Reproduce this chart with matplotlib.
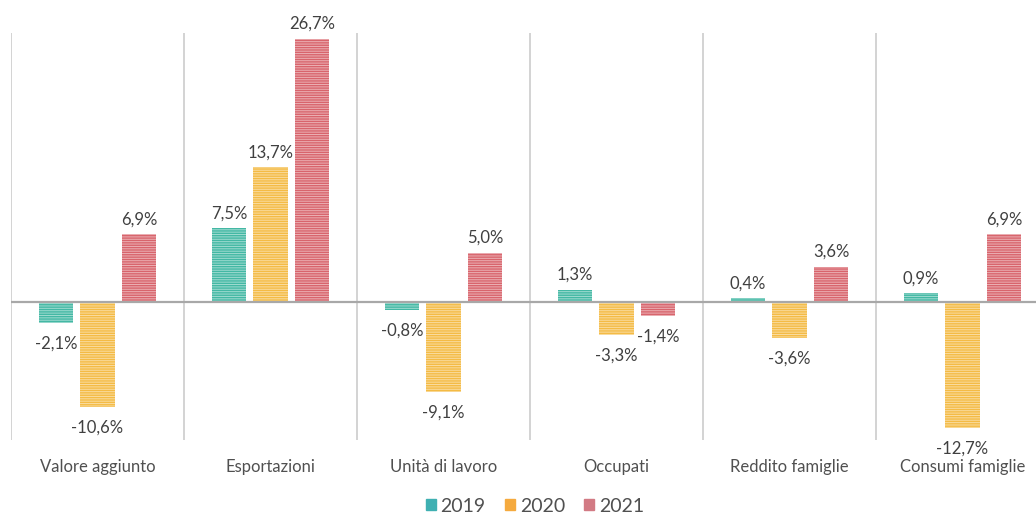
import numpy as np
import matplotlib.pyplot as plt

categories = ["Valore aggiunto", "Esportazioni", "Unità di lavoro", "Occupati",
              "Reddito famiglie", "Consumi famiglie"]
years = ["2019", "2020", "2021"]
v2019 = [-2.1, 7.5, -0.8, 1.3, 0.4, 0.9]
v2020 = [-10.6, 13.7, -9.1, -3.3, -3.6, -12.7]
v2021 = [6.9, 26.7, 5.0, -1.4, 3.6, 6.9]

colors = ["#43b8a4", "#f4bb45", "#d8646c"]
legend_colors = ["#3fb0b2", "#f5aa3e", "#d27a84"]

plt.rcParams['font.family'] = ['Lato', 'DejaVu Sans']
plt.rcParams['hatch.linewidth'] = 0.7

fig = plt.figure(figsize=(10.36, 5.14), dpi=100)
ax = fig.add_axes([11 / 1036, 1 - 440 / 514, 1038 / 1036, 407 / 514])

x = np.arange(len(categories))
offsets = [-0.24, 0.0, 0.24]
for k, vals in enumerate([v2019, v2020, v2021]):
    ax.bar(x + offsets[k], vals, width=0.2, color=colors[k], edgecolor=(1, 1, 1, 0.5),
           linewidth=0, hatch='-------', zorder=3)
    for xi, v in zip(x, vals):
        txt = ("%.1f" % v).replace(".", ",") + "%"
        if v >= 0:
            ax.annotate(txt, (xi + offsets[k], v), xytext=(0, 5), textcoords='offset points',
                        ha='center', va='bottom', fontsize=12, color="#404040")
        else:
            ax.annotate(txt, (xi + offsets[k], v), xytext=(0, -9), textcoords='offset points',
                        ha='center', va='top', fontsize=12, color="#404040")

ax.set_xlim(-0.5, 5.5)
ax.set_ylim(-13.95, 27.3)
for b in np.arange(-0.5, 6, 1.0):
    ax.axvline(b, color="#d0d0d0", lw=1.3, zorder=1)
ax.axhline(0, color="#a8a8a8", lw=1.6, zorder=4)

for s in ax.spines.values():
    s.set_visible(False)
ax.set_yticks([])
ax.set_xticks([])
for xi, c in zip(x, categories):
    ax.text(xi, -16.7, c, ha='center', va='center', fontsize=12, color="#505050")

handles = [plt.Rectangle((0, 0), 1, 1, color=c) for c in legend_colors]
fig.legend(handles, years, loc='center', bbox_to_anchor=(535 / 1036, 1 - 506 / 514),
           ncol=3, frameon=False, fontsize=14, handlelength=0.5, handleheight=0.5,
           handletextpad=0.25, columnspacing=1.0, labelcolor="#505050",
           borderpad=0, borderaxespad=0)

fig.savefig("out.png", dpi=100)
